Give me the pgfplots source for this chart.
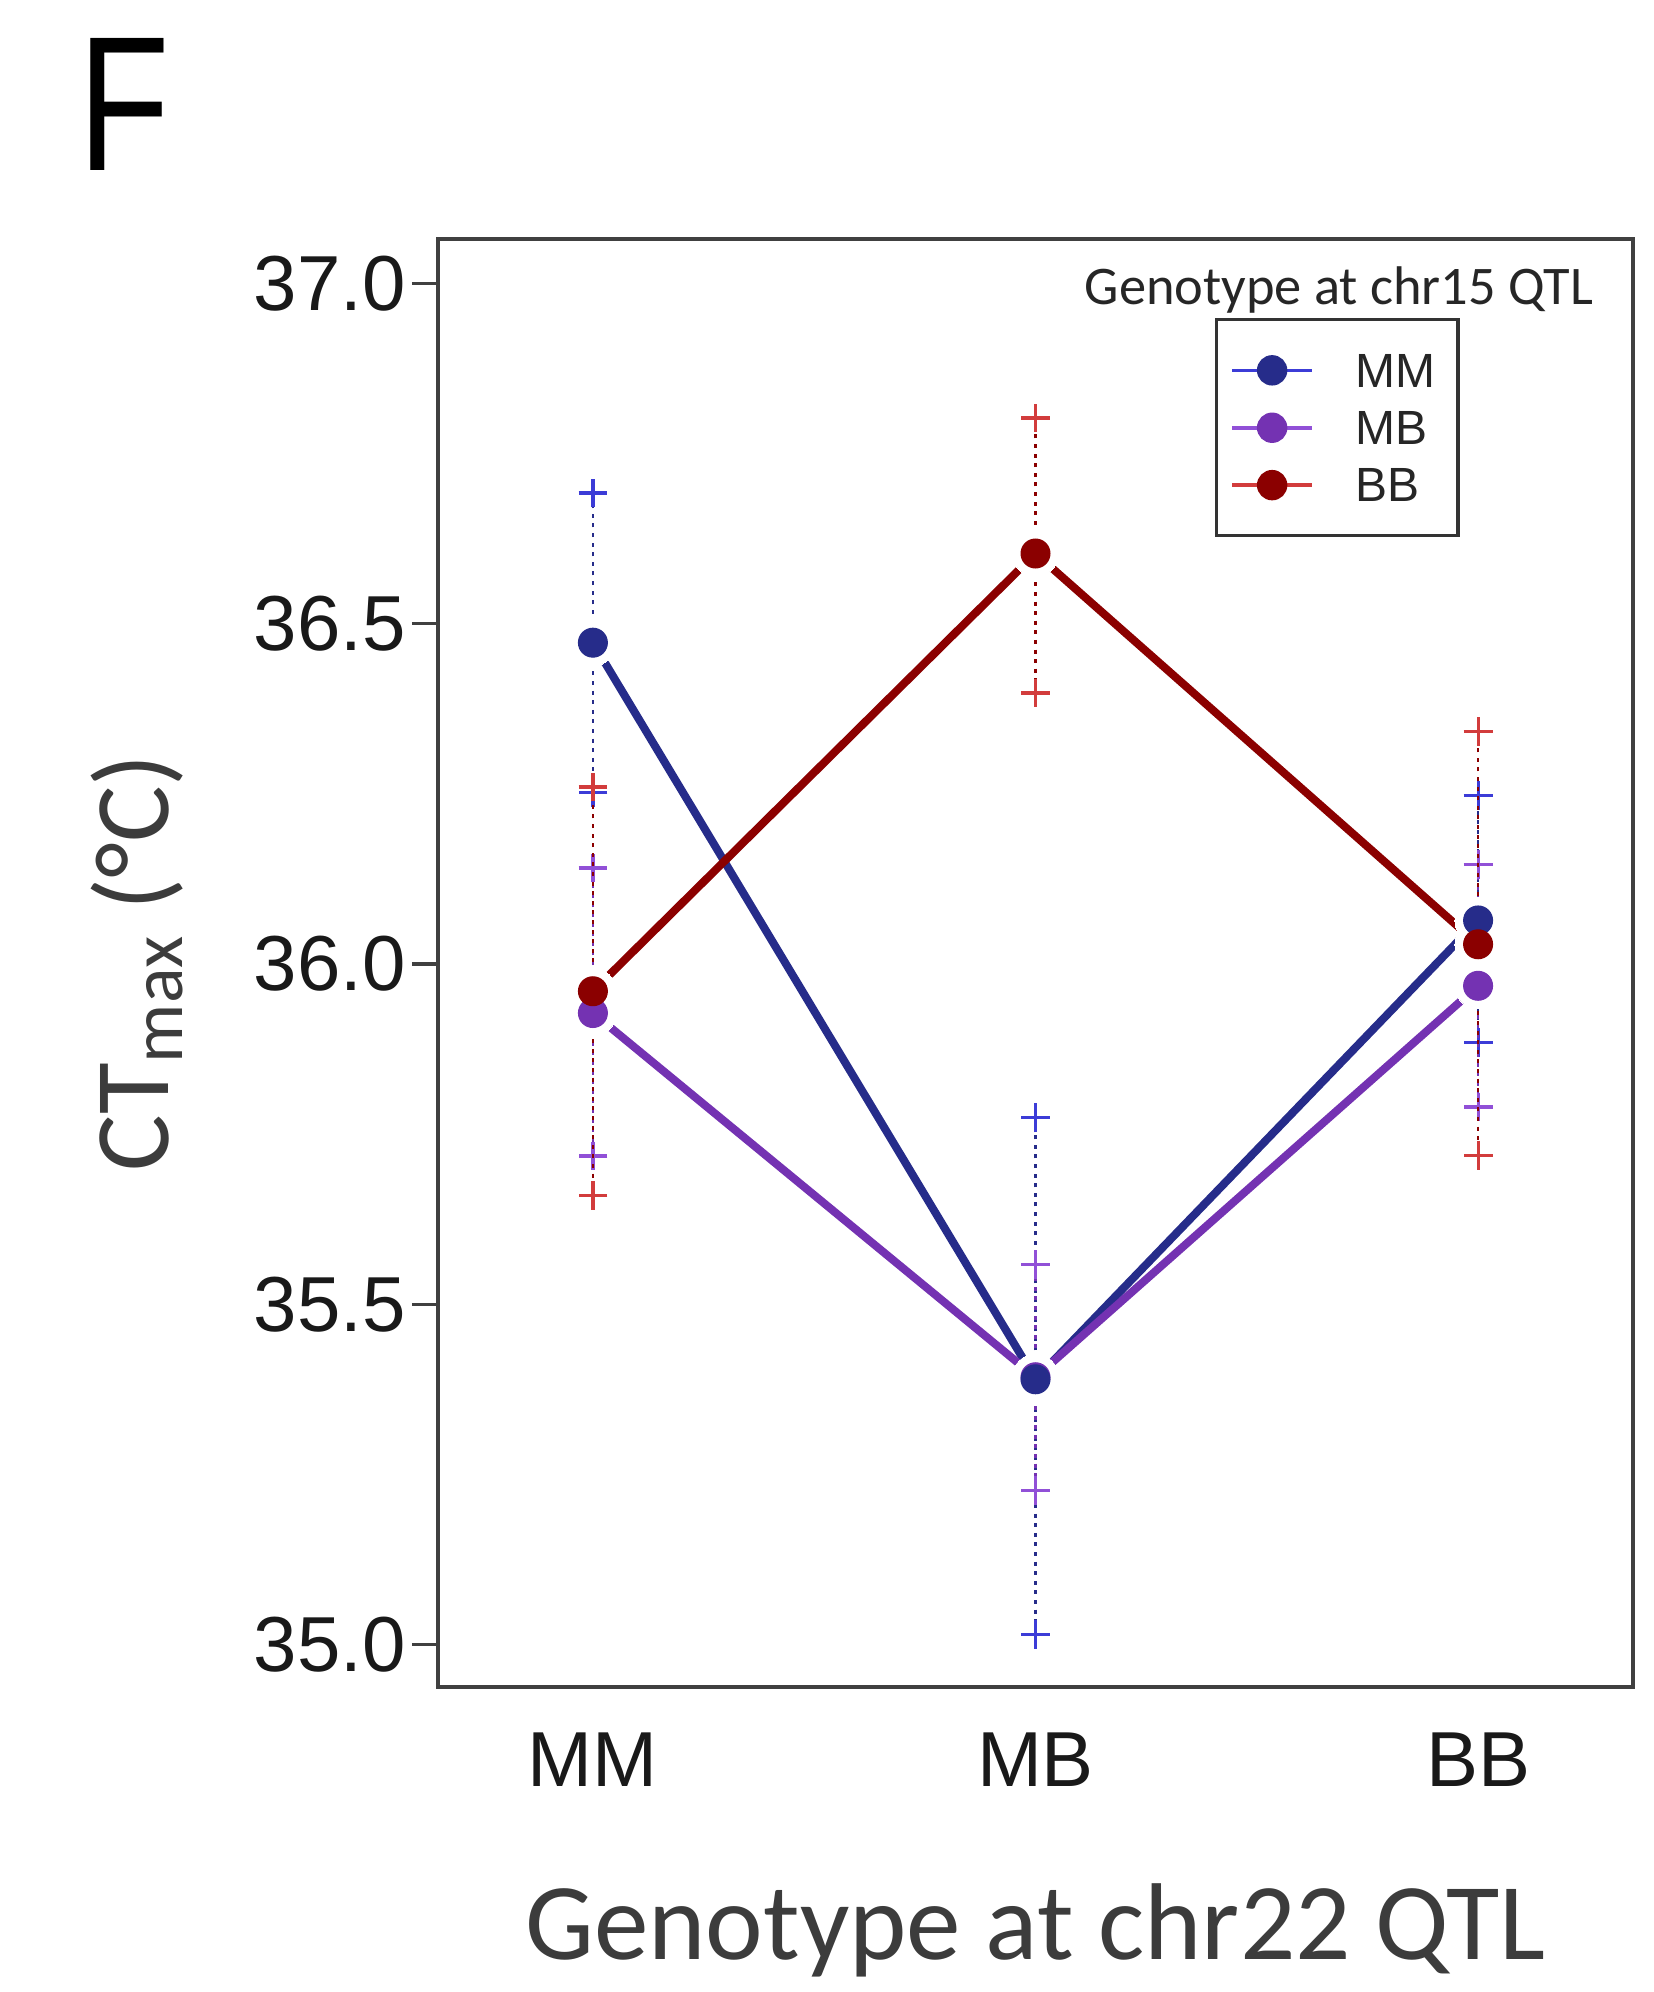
\documentclass[border=0pt]{standalone}
\usepackage{pgfplots}
\pgfplotsset{compat=1.18}
\usepackage{pgfplotstable}
\usepackage{fontspec}
\setmainfont{Carlito}
\newfontfamily\tickfont{Liberation Sans}

\definecolor{mmcol}{RGB}{38,44,138}
\definecolor{mbcol}{RGB}{116,50,178}
\definecolor{bbcol}{RGB}{139,0,0}
\definecolor{mmlight}{RGB}{60,60,215}
\definecolor{mblight}{RGB}{145,80,215}
\definecolor{bblight}{RGB}{210,60,60}
\definecolor{txtgray}{RGB}{60,60,60}

% x = genotype at chr22 QTL (0=MM,1=MB,2=BB); mean and error bar ends
\pgfplotstableread{
x mean lo hi
0 36.472 36.252 36.692
1 35.390 35.015 35.774
2 36.064 35.885 36.247
}\mmdata
\pgfplotstableread{
x mean lo hi
0 35.928 35.718 36.141
1 35.393 35.227 35.559
2 35.968 35.790 36.146
}\mbdata
\pgfplotstableread{
x mean lo hi
0 35.960 35.660 36.260
1 36.603 36.398 36.802
2 36.029 35.719 36.342
}\bbdata

\begin{document}
\begin{tikzpicture}
\path[use as bounding box] (0,0) rectangle (413.25pt,498pt);
\begin{axis}[
  at={(109.5pt,76.25pt)}, anchor=south west,
  scale only axis, width=298.75pt, height=362pt,
  xmin=-0.35, xmax=2.35, ymin=34.938, ymax=37.065,
  xtick={0,1,2}, xticklabels={MM,MB,BB},
  ytick={35,35.5,36,36.5,37},
  ytick pos=left, xtick pos=bottom,
  tick align=outside, major tick length=6.5pt,
  xtick style={draw=none},
  ytick style={black!75, line width=0.8pt},
  axis line style={black!75, line width=0.8pt},
  /pgf/number format/assume math mode=true,
  ticklabel style={font=\tickfont\fontsize{19.5}{22}\selectfont, text=black!90},
  yticklabel style={xshift=1.9pt, /pgf/number format/.cd, fixed, fixed zerofill, precision=1},
  xticklabel style={anchor=north, yshift=-1.5pt},
  xlabel={Genotype at chr22 QTL},
  ylabel={CT\textsubscript{max} (°C)},
  xlabel style={at={(axis description cs:0.5,-0.1885)}, anchor=base, font=\fontsize{27.3}{30}\selectfont, text=txtgray},
  ylabel style={at={(axis description cs:-0.2259,0.5)}, anchor=base, font=\fontsize{26.5}{30}\selectfont, text=txtgray},
  legend style={at={(rel axis cs:0.650,0.9454)}, anchor=north west,
    draw=black!80, line width=0.8pt, inner xsep=3.5pt, inner ysep=5.5pt,
    row sep=0pt, column sep=8.5pt,
    font=\tickfont\fontsize{12}{14}\selectfont, text=black!85,
    nodes={text height=8.35pt, text depth=0pt, inner ysep=3pt, inner xsep=2pt},
    cells={anchor=west}},
  legend image code/.code={},
]
% connecting lines
\addplot[mmcol, line width=2pt, forget plot] table[x=x, y=mean] {\mmdata};
\addplot[mbcol, line width=2pt, forget plot] table[x=x, y=mean] {\mbdata};
\addplot[bbcol, line width=2pt, forget plot] table[x=x, y=mean] {\bbdata};
% white halos around the means
\addplot[white, only marks, mark=*, mark size=5.8pt, mark options={fill=white, draw=white, line width=0pt}, forget plot] table[x=x, y=mean] {\mmdata};
\addplot[white, only marks, mark=*, mark size=5.8pt, mark options={fill=white, draw=white, line width=0pt}, forget plot] table[x=x, y=mean] {\mbdata};
\addplot[white, only marks, mark=*, mark size=5.8pt, mark options={fill=white, draw=white, line width=0pt}, forget plot] table[x=x, y=mean] {\bbdata};
% error bars
\addplot[only marks, mark=none, forget plot,
  error bars/.cd, y dir=both, y explicit, error mark=+,
  error bar style={draw=mmcol, line width=0.6pt, dash pattern=on 1pt off 1.4pt},
  error mark options={draw=mmlight, mark size=3.6pt, line width=0.8pt, solid}]
  table[x=x, y=mean, y error plus expr=\thisrow{hi}-\thisrow{mean}, y error minus expr=\thisrow{mean}-\thisrow{lo}] {\mmdata};
\addplot[only marks, mark=none, forget plot,
  error bars/.cd, y dir=both, y explicit, error mark=+,
  error bar style={draw=mbcol, line width=0.6pt, dash pattern=on 1pt off 1.4pt},
  error mark options={draw=mblight, mark size=3.6pt, line width=0.8pt, solid}]
  table[x=x, y=mean, y error plus expr=\thisrow{hi}-\thisrow{mean}, y error minus expr=\thisrow{mean}-\thisrow{lo}] {\mbdata};
\addplot[only marks, mark=none, forget plot,
  error bars/.cd, y dir=both, y explicit, error mark=+,
  error bar style={draw=bbcol, line width=0.6pt, dash pattern=on 1pt off 1.4pt},
  error mark options={draw=bblight, mark size=3.6pt, line width=0.8pt, solid}]
  table[x=x, y=mean, y error plus expr=\thisrow{hi}-\thisrow{mean}, y error minus expr=\thisrow{mean}-\thisrow{lo}] {\bbdata};
% means (purple first, then blue, then red on top)
\addplot[only marks, mark=*, mark size=3.6pt, mark options={fill=mbcol, draw=mbcol, line width=0.3pt}, forget plot] table[x=x, y=mean] {\mbdata};
\addplot[only marks, mark=*, mark size=3.6pt, mark options={fill=mmcol, draw=mmcol, line width=0.3pt}, forget plot] table[x=x, y=mean] {\mmdata};
\addplot[only marks, mark=*, mark size=3.6pt, mark options={fill=bbcol, draw=bbcol, line width=0.3pt}, forget plot] table[x=x, y=mean] {\bbdata};
% legend
\addlegendimage{legend image code/.code={\draw[mmlight, line width=0.9pt] (0pt,0pt) -- (20pt,0pt); \fill[mmcol] (10pt,0pt) circle (3.4pt);}}
\addlegendentry{MM}
\addlegendimage{legend image code/.code={\draw[mblight, line width=0.9pt] (0pt,0pt) -- (20pt,0pt); \fill[mbcol] (10pt,0pt) circle (3.4pt);}}
\addlegendentry{MB}
\addlegendimage{legend image code/.code={\draw[bblight, line width=0.9pt] (0pt,0pt) -- (20pt,0pt); \fill[bbcol] (10pt,0pt) circle (3.4pt);}}
\addlegendentry{BB}
\node[anchor=base, font=\fontsize{13.6}{16}\selectfont, text=black!85] at (rel axis cs:0.754,0.955) {Genotype at chr15 QTL};
\end{axis}
\node[anchor=north west, inner sep=0pt, xscale=0.78, font=\tickfont\fontsize{48}{52}\selectfont] at (19.5pt,488.5pt) {F};
\end{tikzpicture}
\end{document}
